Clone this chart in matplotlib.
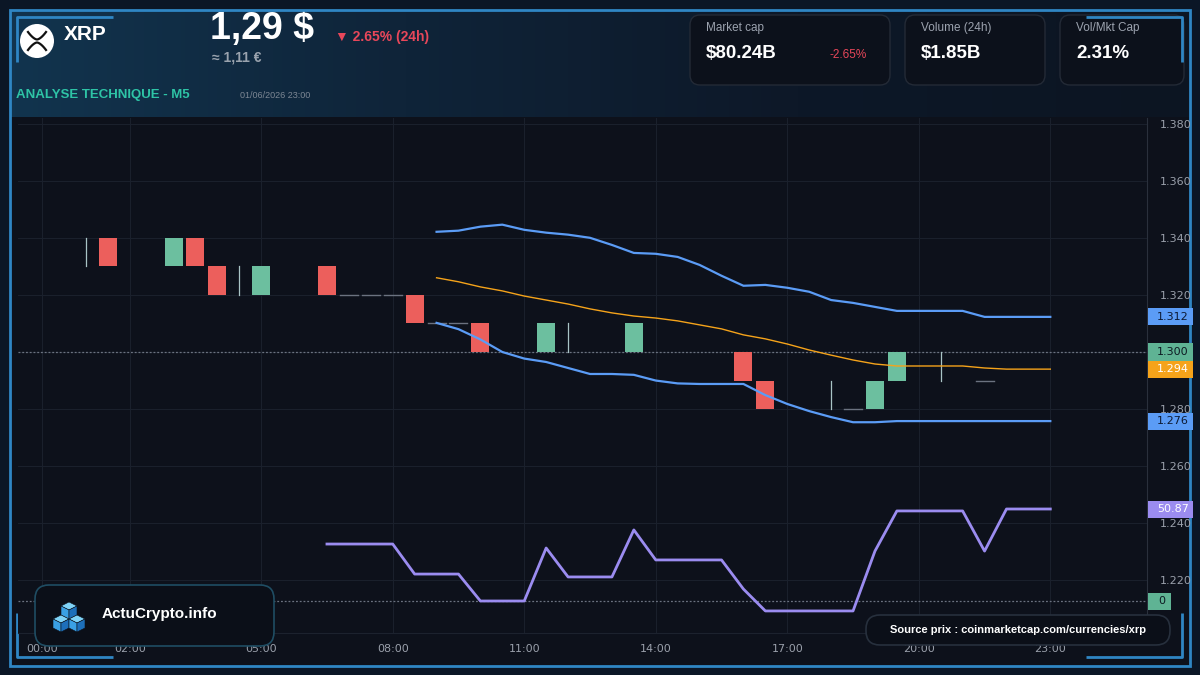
import numpy as np
import matplotlib
matplotlib.use('Agg')
import matplotlib.pyplot as plt
from matplotlib.patches import Rectangle, FancyBboxPatch, Circle, Polygon
from matplotlib.transforms import blended_transform_factory
from matplotlib.colors import LinearSegmentedColormap

plt.rcParams['font.family'] = ['Liberation Sans', 'DejaVu Sans']

# ---------------- data ----------------
tick_hours = [0, 2, 5, 8, 11, 14, 17, 20, 23]
tick_labels = ['00:00', '02:00', '05:00', '08:00', '11:00', '14:00', '17:00', '20:00', '23:00']
price_ticks = [1.22, 1.24, 1.26, 1.28, 1.30, 1.32, 1.34, 1.36, 1.38]

# candles (index = half-hour slot)
candle_idx = [2, 3, 6, 7, 8, 9, 10, 13, 14, 15, 16, 17, 18, 19, 20, 23, 24, 27, 32, 33, 36, 37, 38, 39, 41, 43]
opens  = [1.34, 1.34, 1.33, 1.34, 1.33, 1.32, 1.32, 1.33, 1.32, 1.32, 1.32, 1.32, 1.31, 1.31, 1.31, 1.30, 1.30, 1.30, 1.30, 1.29, 1.28, 1.28, 1.28, 1.29, 1.29, 1.29]
highs  = [1.34, 1.34, 1.34, 1.34, 1.33, 1.33, 1.33, 1.33, 1.32, 1.32, 1.32, 1.32, 1.31, 1.31, 1.31, 1.31, 1.31, 1.31, 1.30, 1.29, 1.29, 1.28, 1.29, 1.30, 1.30, 1.29]
lows   = [1.33, 1.33, 1.33, 1.33, 1.32, 1.32, 1.32, 1.32, 1.32, 1.32, 1.32, 1.31, 1.31, 1.31, 1.30, 1.30, 1.30, 1.30, 1.29, 1.28, 1.28, 1.28, 1.28, 1.29, 1.29, 1.29]
closes = [1.34, 1.33, 1.34, 1.33, 1.32, 1.32, 1.33, 1.32, 1.32, 1.32, 1.32, 1.31, 1.31, 1.31, 1.30, 1.31, 1.30, 1.31, 1.29, 1.28, 1.28, 1.28, 1.29, 1.30, 1.29, 1.29]

# Bollinger bands (slots 18..46)
bb_idx = list(range(18, 47))
bb_upper = [1.3421, 1.3425, 1.3439, 1.3446, 1.3428, 1.3418, 1.3411, 1.3400, 1.3375, 1.3347,
            1.3344, 1.3333, 1.3305, 1.3267, 1.3232, 1.3235, 1.3225, 1.3211, 1.3182, 1.3172,
            1.3158, 1.3144, 1.3144, 1.3144, 1.3144, 1.3123, 1.3123, 1.3123, 1.3123]
bb_mid = [1.3260, 1.3246, 1.3228, 1.3214, 1.3196, 1.3182, 1.3168, 1.3151, 1.3137, 1.3126,
          1.3119, 1.3109, 1.3095, 1.3081, 1.3060, 1.3046, 1.3028, 1.3007, 1.2989, 1.2972,
          1.2958, 1.2951, 1.2951, 1.2951, 1.2951, 1.2944, 1.2940, 1.2940, 1.2940]
bb_lower = [1.3102, 1.3080, 1.3044, 1.3000, 1.2977, 1.2965, 1.2944, 1.2923, 1.2923, 1.2920,
            1.2900, 1.2890, 1.2888, 1.2888, 1.2888, 1.2849, 1.2818, 1.2793, 1.2772, 1.2754,
            1.2754, 1.2758, 1.2758, 1.2758, 1.2758, 1.2758, 1.2758, 1.2758, 1.2758]

# RSI (slots 13..46)
rsi_idx = list(range(13, 47))
rsi = [31.5, 31.5, 31.5, 31.5, 14.9, 14.9, 14.9, 0.0, 0.0, 0.0,
       29.3, 13.3, 13.3, 13.3, 39.3, 22.7, 22.7, 22.7, 22.7, 6.6,
       -5.5, -5.5, -5.5, -5.5, -5.5, 27.6, 49.8, 49.8, 49.8, 49.8,
       27.6, 50.87, 50.87, 50.87]

current_price = 1.300
rsi_zero = 0.0

# ---------------- colours ----------------
BG = '#0b1626'
PLOT_BG = '#0d111b'
RED = '#ec5f5c'
GREEN = '#6cbf9f'
BLUE = '#5b9cf6'
ORANGE = '#f5a31a'
PURPLE = '#9b8cf0'
FRAME = '#2f86c4'

W, H = 1200, 675
fig = plt.figure(figsize=(12, 6.75), dpi=100)
fig.patch.set_facecolor(BG)

# background axes in pixel coordinates
bg = fig.add_axes([0, 0, 1, 1], zorder=0)
bg.add_patch(Rectangle((10, 10), 1180, 656, fc=PLOT_BG, ec='none'))
grad = np.linspace(0, 1, 256).reshape(1, -1)
cmap = LinearSegmentedColormap.from_list('hdr', ['#12344e', '#0f2439', '#0d1828', '#0c1522'])
bg.imshow(grad, extent=(10, 1190, 117, 10), cmap=cmap, aspect='auto', zorder=1)
bg.set_xlim(0, W)
bg.set_ylim(H, 0)
bg.axis('off')
bg.add_patch(Rectangle((10, 10), 1180, 656, fc='none', ec=FRAME, lw=2, zorder=5))
for pts in [[(17, 62), (17, 17), (113, 17)], [(1086, 17), (1182, 17), (1182, 62)],
            [(17, 613), (17, 657), (113, 657)], [(1086, 657), (1182, 657), (1182, 613)]]:
    xs, ys = zip(*pts)
    bg.plot(xs, ys, color=FRAME, lw=2, zorder=5, solid_capstyle='butt')

# XRP logo
bg.add_patch(Circle((37, 41), 17, fc='white', ec='none', zorder=3))
tx = np.linspace(-9, 9, 40)
bg.plot(37 + tx, 39.5 - 7.5 * (np.abs(tx) / 9) ** 1.6, color='#111111', lw=1.6, zorder=4)
bg.plot(37 + tx, 42.5 + 7.5 * (np.abs(tx) / 9) ** 1.6, color='#111111', lw=1.6, zorder=4)
bg.text(64, 34, 'XRP', color='white', fontsize=15, fontweight='bold', va='center', ha='left', zorder=4)
bg.text(210, 29, '1,29 $', color='white', fontsize=27, fontweight='bold', va='center', ha='left', zorder=4)
bg.text(212, 58, '≈ 1,11 €', color='#9aa3ae', fontsize=10, fontweight='bold', va='center', ha='left', zorder=4)
bg.text(335, 37, '▼ 2.65% (24h)', color='#e8475a', fontsize=10, fontweight='bold', va='center', ha='left',
        zorder=4)
bg.text(16, 95, 'ANALYSE TECHNIQUE - M5', color='#2ec4a6', fontsize=9.5, fontweight='bold', va='center',
        ha='left', zorder=4)
bg.text(240, 96, '01/06/2026 23:00', color='#7d8794', fontsize=6.5, va='center', ha='left', zorder=4)

# cards
cards = [(690, 890, 'Market cap', '$80.24B', '-2.65%'),
         (905, 1045, 'Volume (24h)', '$1.85B', None),
         (1060, 1184, 'Vol/Mkt Cap', '2.31%', None)]
for x0, x1, lab, val, chg in cards:
    bg.add_patch(FancyBboxPatch((x0, 15), x1 - x0, 70, boxstyle='round,pad=0,rounding_size=10',
                                fc='#0c111b', ec='#232a36', lw=1, zorder=3))
    bg.text(x0 + 16, 28, lab, color='#9ca3af', fontsize=8.5, va='center', ha='left', zorder=4)
    bg.text(x0 + 16, 53, val, color='white', fontsize=13.5, fontweight='bold', va='center', ha='left', zorder=4)
    if chg:
        bg.text(x0 + 140, 55, chg, color='#e8475a', fontsize=8.5, va='center', ha='left', zorder=4)

# ---------------- main chart ----------------
px_l, px_r, px_t, px_b = 18, 1147, 118, 633
rect = [px_l / W, (H - px_b) / H, (px_r - px_l) / W, (px_b - px_t) / H]
ax = fig.add_axes(rect, zorder=1)
ax.set_facecolor(PLOT_BG)
hr_per_px = 1 / 43.84
x0_px = 42
xlim = ((px_l - x0_px) * hr_per_px, (px_r - x0_px) * hr_per_px)
ax.set_xlim(*xlim)
ppu = 2855.0
ax.set_ylim(1.30 - (px_b - 352) / ppu, 1.30 + (352 - px_t) / ppu)

ax.set_xticks(tick_hours)
ax.set_xticklabels(tick_labels)
ax.set_yticks(price_ticks)
# the 1.300 tick label sits under the current-price tag
ax.set_yticklabels(['' if abs(v - current_price) < 1e-9 else f'{v:.3f}' for v in price_ticks])
ax.yaxis.tick_right()
ax.tick_params(axis='both', length=0, colors='#9aa0ab', labelsize=8)
ax.tick_params(axis='x', pad=8)
ax.tick_params(axis='y', pad=9)
for lab in ax.get_xticklabels() + ax.get_yticklabels():
    lab.set_family('DejaVu Sans')
ax.grid(True, color='#1a202c', lw=0.8)
for s in ['left', 'top']:
    ax.spines[s].set_visible(False)
ax.spines['right'].set_color('#2a303c')
ax.spines['bottom'].set_color('#1c222e')

ax.axhline(current_price, color='#6b7280', lw=0.9, ls=(0, (1.5, 1.5)), zorder=2)

bw = 0.41
for i, o, h, l, c in zip(candle_idx, opens, highs, lows, closes):
    x = i * 0.5
    if c > o:
        ax.add_patch(Rectangle((x - bw / 2, o), bw, c - o, fc=GREEN, ec='none', zorder=3))
    elif c < o:
        ax.add_patch(Rectangle((x - bw / 2, c), bw, o - c, fc=RED, ec='none', zorder=3))
    elif h > l:
        ax.plot([x, x], [l, h], color='#a9c4c6', lw=0.9, zorder=3)
    else:
        ax.plot([x - bw / 2, x + bw / 2], [o, o], color='#6b7280', lw=1.0, zorder=3)

bbx = [i * 0.5 for i in bb_idx]
ax.plot(bbx, bb_upper, color=BLUE, lw=1.6, zorder=4)
ax.plot(bbx, bb_lower, color=BLUE, lw=1.6, zorder=4)
ax.plot(bbx, bb_mid, color=ORANGE, lw=1.0, zorder=4)

# RSI on its own scale (separate overlaid axes)
ax2 = fig.add_axes(rect, zorder=2)
ax2.patch.set_alpha(0)
ax2.set_xlim(*xlim)
rsi_ppu = 92 / 50.87
ax2.set_ylim(-(px_b - 601) / rsi_ppu, (601 - px_t) / rsi_ppu)
ax2.set_xticks([])
ax2.set_yticks([])
for s in ax2.spines.values():
    s.set_visible(False)
ax2.axhline(rsi_zero, color='#6b7280', lw=0.9, ls=(0, (1.5, 1.5)), zorder=2)
ax2.plot([i * 0.5 for i in rsi_idx], rsi, color=PURPLE, lw=2.0, zorder=4)

# right-side value tags
def tag(axis, value, text, fc, tc, width_px=45, unit_px=ppu):
    tr = blended_transform_factory(axis.transAxes, axis.transData)
    wfrac = width_px / (px_r - px_l)
    hh = 8.5 / unit_px
    axis.add_patch(Rectangle((1.001, value - hh), wfrac, 2 * hh, transform=tr, fc=fc, ec='none',
                             clip_on=False, zorder=10))
    axis.text(1.001 + wfrac / 2 + 0.002, value, text, transform=tr, color=tc, fontsize=8,
              family=['DejaVu Sans'], va='center', ha='center', clip_on=False, zorder=11)

tag(ax, bb_upper[-1], f'{bb_upper[-1]:.3f}', BLUE, '#0d1a33')
tag(ax, current_price, f'{current_price:.3f}', '#5fb394', '#0d1a22')
tag(ax, bb_mid[-1], f'{bb_mid[-1]:.3f}', ORANGE, 'white')
tag(ax, bb_lower[-1], f'{bb_lower[-1]:.3f}', BLUE, '#0d1a33')
tag(ax2, rsi[-1], f'{rsi[-1]:.2f}', PURPLE, 'white', unit_px=rsi_ppu)
tag(ax2, rsi_zero, '0', '#5fb394', '#0d1a22', width_px=23, unit_px=rsi_ppu)

# ---------------- overlay boxes ----------------
ov = fig.add_axes([0, 0, 1, 1], zorder=5)
ov.set_xlim(0, W)
ov.set_ylim(H, 0)
ov.axis('off')
ov.patch.set_alpha(0)
ov.add_patch(FancyBboxPatch((35, 585), 239, 61, boxstyle='round,pad=0,rounding_size=14',
                            fc='#0b0f18', ec='#1f4d63', lw=1.2))
def cube(cx, cy):
    ov.add_patch(Polygon([(cx, cy - 8), (cx + 8, cy - 4), (cx, cy), (cx - 8, cy - 4)], fc='#7fd3f7', ec='#0b0f18', lw=0.4))
    ov.add_patch(Polygon([(cx - 8, cy - 4), (cx, cy), (cx, cy + 9), (cx - 8, cy + 5)], fc='#3aa0e4', ec='#0b0f18', lw=0.4))
    ov.add_patch(Polygon([(cx, cy), (cx + 8, cy - 4), (cx + 8, cy + 5), (cx, cy + 9)], fc='#1d6fba', ec='#0b0f18', lw=0.4))
cube(69, 610)
cube(61, 623)
cube(77, 623)
ov.text(102, 614, 'ActuCrypto.info', color='white', fontsize=11, fontweight='bold', va='center', ha='left')
ov.add_patch(FancyBboxPatch((866, 615), 304, 30, boxstyle='round,pad=0,rounding_size=14',
                            fc='#0b0f18', ec='#27303d', lw=1.2))
ov.text(1018, 630, 'Source prix : coinmarketcap.com/currencies/xrp', color='white', fontsize=8,
        fontweight='bold', va='center', ha='center')

fig.savefig('out.png', dpi=100, facecolor=fig.get_facecolor())
